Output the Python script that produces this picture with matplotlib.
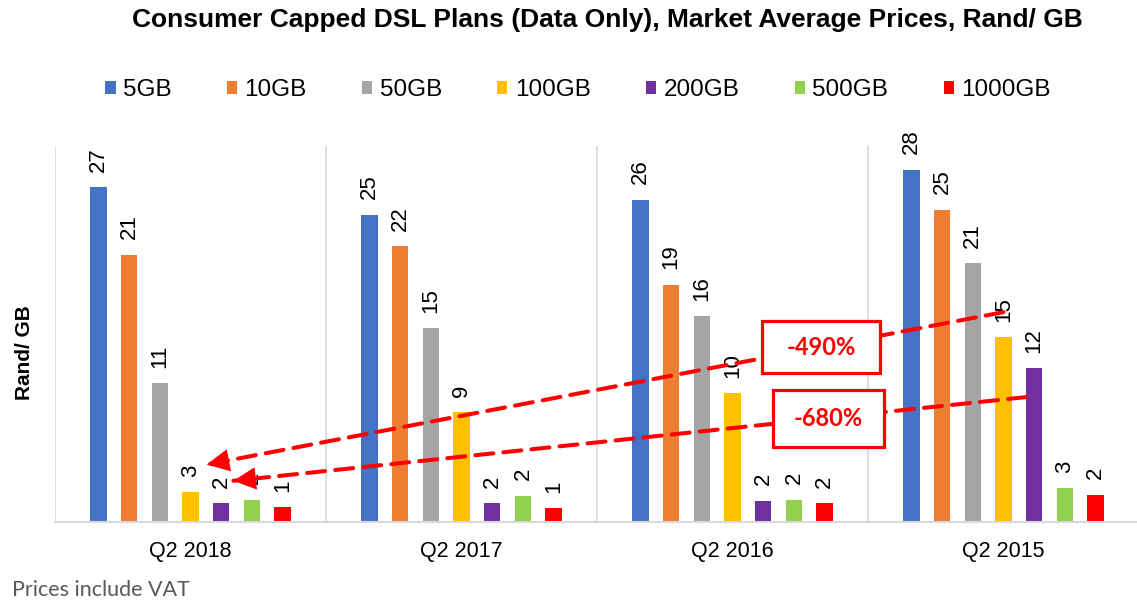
import numpy as np
import matplotlib
matplotlib.use('Agg')
import matplotlib.pyplot as plt
from matplotlib.patches import Patch, Rectangle

# data (Rand per GB)
periods = ['Q2 2018', 'Q2 2017', 'Q2 2016', 'Q2 2015']
plans = ['5GB', '10GB', '50GB', '100GB', '200GB', '500GB', '1000GB']
colors = ['#4472C4', '#ED7D31', '#A5A5A5', '#FFC000', '#7030A0', '#92D050', '#FF0000']

price_5gb = [26.8, 24.6, 25.8, 28.2]
price_10gb = [21.4, 22.1, 19.0, 25.0]
price_50gb = [11.1, 15.5, 16.5, 20.7]
price_100gb = [2.4, 8.8, 10.3, 14.8]
price_200gb = [1.5, 1.5, 1.7, 12.3]
price_500gb = [1.8, 2.1, 1.8, 2.7]
price_1000gb = [1.2, 1.1, 1.5, 2.2]

# labels as printed on the chart
label_5gb = [27, 25, 26, 28]
label_10gb = [21, 22, 19, 25]
label_50gb = [11, 15, 16, 21]
label_100gb = [3, 9, 10, 15]
label_200gb = [2, 2, 2, 12]
label_500gb = [2, 2, 2, 3]
label_1000gb = [1, 1, 2, 2]

series = [price_5gb, price_10gb, price_50gb, price_100gb, price_200gb, price_500gb, price_1000gb]
labels = [label_5gb, label_10gb, label_50gb, label_100gb, label_200gb, label_500gb, label_1000gb]

change_labels = ['-490%', '-680%']

W, H = 1137, 603
fig = plt.figure(figsize=(W / 100, H / 100), dpi=100)
ax = fig.add_axes([55 / W, (H - 522) / H, 1084 / W, 376 / H])

x = np.arange(len(periods))
pitch = 0.1133
width = 0.06
offsets = (np.arange(len(plans)) - 3) * pitch

for i, (vals, labs) in enumerate(zip(series, labels)):
    xs = x + offsets[i]
    ax.bar(xs, vals, width=width, color=colors[i], zorder=2)
    for xi, v, lab in zip(xs, vals, labs):
        ax.annotate(str(lab), (xi, v), xytext=(0, 11), textcoords='offset points',
                    rotation=90, ha='center', va='bottom', fontsize=16,
                    family='Liberation Sans', zorder=3)

ax.set_xlim(-0.5, 3.5)
ax.set_ylim(0, 30.1)
for sep in [-0.5, 0.5, 1.5, 2.5]:
    ax.axvline(sep, color='#D9D9D9', lw=1.2, zorder=1)
for s in ['top', 'right', 'left']:
    ax.spines[s].set_visible(False)
ax.spines['bottom'].set_color('#D9D9D9')
ax.spines['bottom'].set_linewidth(1.5)
ax.set_yticks([])
ax.set_xticks(x)
ax.set_xticklabels(periods, fontsize=15.5, family='Liberation Sans')
ax.tick_params(axis='x', length=0, pad=14)
ax.set_ylabel('Rand/ GB', fontsize=15, fontweight='bold', family='Liberation Sans')
ax.yaxis.set_label_coords(-0.019, 0.45)

# dashed arrows from Q2 2015 back to Q2 2018
arrows = [
    ((x[3] + offsets[3], 16.8), (x[0] + offsets[3] + 0.06, 4.6)),
    ((x[3] + offsets[4] - width / 2, 10.0), (x[0] + offsets[4] + 0.045, 3.3)),
]
for start, end in arrows:
    ax.annotate('', xy=end, xytext=start,
                arrowprops=dict(arrowstyle='-', color='#FF0000', lw=2.9,
                                linestyle=(0, (4.5, 2.5)), shrinkA=0, shrinkB=0),
                zorder=4)
    d = np.array(start) - np.array(end)
    back = (end[0] + d[0] * 0.03, end[1] + d[1] * 0.03)
    ax.annotate('', xy=end, xytext=back,
                arrowprops=dict(arrowstyle='-|>,head_length=0.9,head_width=0.45',
                                color='#FF0000', lw=0, shrinkA=0, shrinkB=0,
                                mutation_scale=18),
                zorder=4)

# percentage boxes
boxes = [(2.327, 14.0, 0.435, 4.16), (2.354, 8.28, 0.41, 4.56)]
for (cx, cy, bw, bh), txt in zip(boxes, change_labels):
    ax.add_patch(Rectangle((cx - bw / 2, cy - bh / 2), bw, bh, facecolor='white',
                           edgecolor='#FF0000', lw=2.3, zorder=5, clip_on=False))
    ax.text(cx, cy, txt, color='#FF0000', fontsize=17, fontweight='bold',
            family='Lato', ha='center', va='center', zorder=6)

fig.text(607 / W, 1 - 20 / H,
         'Consumer Capped DSL Plans (Data Only), Market Average Prices, Rand/ GB',
         ha='center', va='center', fontsize=19, fontweight='bold', family='Liberation Sans')

handles = [Patch(facecolor=c, edgecolor='none') for c in colors]
fig.legend(handles, plans, loc='center', bbox_to_anchor=(578 / W, 1 - 90 / H), ncol=7,
           frameon=False, prop={'family': 'Liberation Sans', 'size': 17.5},
           handlelength=0.42, handleheight=0.42, handletextpad=0.3, columnspacing=2.28)

fig.text(12 / W, 1 - 590 / H, 'Prices include VAT', ha='left', va='center',
         fontsize=15.5, color='#595959', family='Lato')

fig.savefig('out.png', dpi=100)
